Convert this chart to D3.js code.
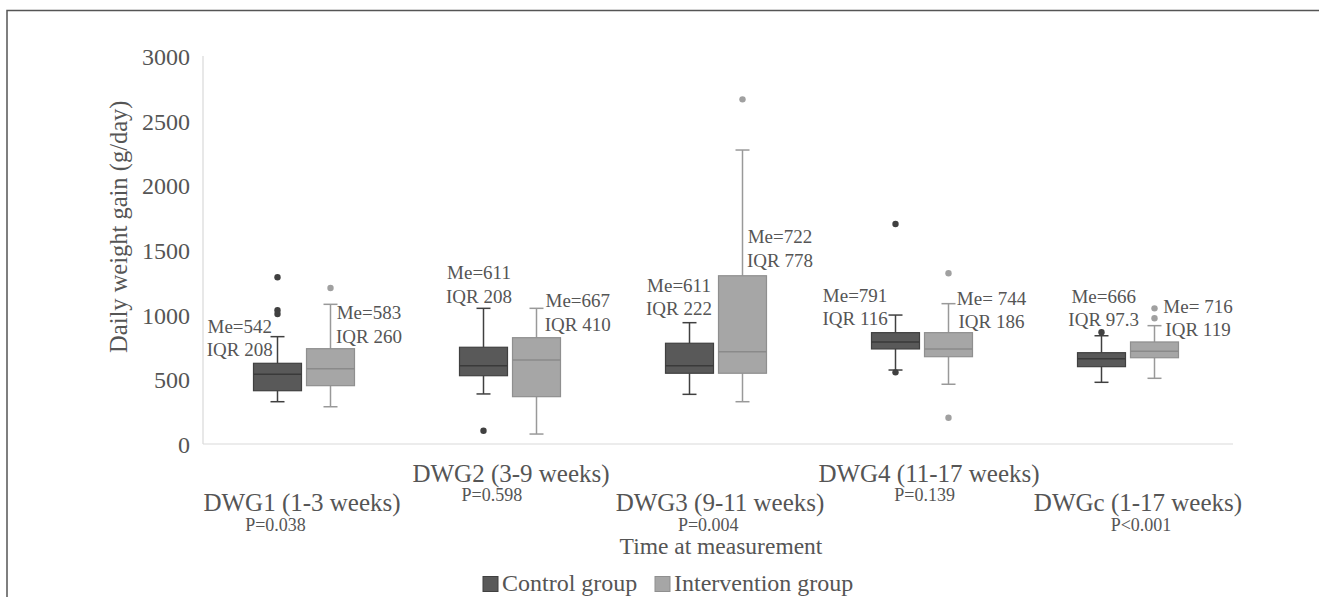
<!DOCTYPE html>
<html><head><meta charset="utf-8">
<script src="https://cdn.jsdelivr.net/npm/d3@7"></script>
<style>
body{margin:0;background:#fff;}
text{font-family:"Liberation Serif","Times New Roman",Times,serif;fill:#555555;}
</style>
</head><body>
<svg id="c" width="1319" height="597"></svg>
<script>
// ---- data ----
const categories = ["DWG1 (1-3 weeks)","DWG2 (3-9 weeks)","DWG3 (9-11 weeks)","DWG4 (11-17 weeks)","DWGc (1-17 weeks)"];
const pLabels = ["P=0.038","P=0.598","P=0.004","P=0.139","P<0.001"];
const seriesNames = ["Control group","Intervention group"];
const yTicks = [0,500,1000,1500,2000,2500,3000];

const controlMin     = [327, 387, 384, 572, 477];
const controlQ1      = [412, 528, 547, 735, 598];
const controlMedian  = [539, 605, 605, 789, 660];
const controlQ3      = [624, 748, 779, 861, 706];
const controlMax     = [830, 1049, 938, 997, 837];
const controlOutliers = [[1289,1035,1005],[103],[],[1701,554],[864]];

const interventionMin     = [288, 77, 327, 462, 508];
const interventionQ1      = [451, 366, 547, 675, 667];
const interventionMedian  = [582, 650, 714, 735, 717];
const interventionQ3      = [737, 822, 1301, 861, 789];
const interventionMax     = [1080, 1049, 2273, 1085, 915];
const interventionOutliers = [[1206],[],[2665],[1320,203],[1049,972]];

const controlMe  = ["Me=542","Me=611","Me=611","Me=791","Me=666"];
const controlIQR = ["IQR 208","IQR 208","IQR 222","IQR 116","IQR 97.3"];
const interventionMe  = ["Me=583","Me=667","Me=722","Me= 744","Me= 716"];
const interventionIQR = ["IQR 260","IQR 410","IQR 778","IQR 186","IQR 119"];

// ---- layout (annotation placement) ----
const annotLayout = {
  "Control group":      {dx:[-37.7,-4.5,-10.5,-40.4,2.2], v:[861,1273,1178,1100,1093]},
  "Intervention group": {dx:[38.5,41.3,37.5,43,43.5],     v:[964,1057,1552,1075,1015]}
};

const series = [
  {name:"Control group", min:controlMin, q1:controlQ1, med:controlMedian, q3:controlQ3, max:controlMax, out:controlOutliers, me:controlMe, iqr:controlIQR,
   fill:"#595959", stroke:"#404040", whisk:"#404040", medc:"#3a3a3a", dot:"#404040"},
  {name:"Intervention group", min:interventionMin, q1:interventionQ1, med:interventionMedian, q3:interventionQ3, max:interventionMax, out:interventionOutliers, me:interventionMe, iqr:interventionIQR,
   fill:"#a6a6a6", stroke:"#8f8f8f", whisk:"#999999", medc:"#8a8a8a", dot:"#a0a0a0"}
];

const svg = d3.select("#c");

// outer frame
svg.append("rect").attr("x",7).attr("y",10.5).attr("width",1340).attr("height",620)
  .attr("fill","none").attr("stroke","#555").attr("stroke-width",1.5);

const x = d3.scaleBand().domain(categories).range([201,1231]);
const xs = d3.scaleBand().domain(seriesNames).range([-50.5,50.5]).paddingInner(5/53);
const y = d3.scaleLinear().domain([0,3000]).range([444,56]);

// axis lines
svg.append("line").attr("x1",203).attr("x2",203).attr("y1",y(3000)).attr("y2",y(0))
  .attr("stroke","#d9d9d9").attr("stroke-width",1.2);
svg.append("line").attr("x1",203).attr("x2",1233).attr("y1",y(0)).attr("y2",y(0))
  .attr("stroke","#d9d9d9").attr("stroke-width",1.2);

// y axis labels
const yAxis = d3.axisLeft(y).tickValues(yTicks).tickSize(0).tickPadding(13).tickFormat(d3.format("d"));
const ga = svg.append("g").attr("transform","translate(203,0)").call(yAxis);
ga.attr("font-family",null);
ga.select(".domain").remove();
ga.selectAll("text").style("font-size","24px").attr("fill","#555555").attr("dy","0.35em");

// y title
svg.append("text").attr("transform",`translate(127,${y(1680)}) rotate(-90)`)
  .attr("text-anchor","middle").style("font-size","24.5px").text("Daily weight gain (g/day)");

// boxes
const bw = xs.bandwidth();
const capW = 14;
series.forEach(s => {
  categories.forEach((c,i) => {
    const cx = x(c) + x.bandwidth()/2 + xs(s.name) + bw/2;
    const g = svg.append("g");
    g.append("line").attr("x1",cx).attr("x2",cx).attr("y1",y(s.max[i])).attr("y2",y(s.q3[i]))
      .attr("stroke",s.whisk).attr("stroke-width",1.5);
    g.append("line").attr("x1",cx).attr("x2",cx).attr("y1",y(s.q1[i])).attr("y2",y(s.min[i]))
      .attr("stroke",s.whisk).attr("stroke-width",1.5);
    [s.max[i], s.min[i]].forEach(v => {
      g.append("line").attr("x1",cx-capW/2).attr("x2",cx+capW/2).attr("y1",y(v)).attr("y2",y(v))
        .attr("stroke",s.whisk).attr("stroke-width",1.5);
    });
    g.append("rect").attr("x",cx-bw/2).attr("width",bw)
      .attr("y",y(s.q3[i])).attr("height",y(s.q1[i])-y(s.q3[i]))
      .attr("fill",s.fill).attr("stroke",s.stroke).attr("stroke-width",1.2);
    g.append("line").attr("x1",cx-bw/2).attr("x2",cx+bw/2).attr("y1",y(s.med[i])).attr("y2",y(s.med[i]))
      .attr("stroke",s.medc).attr("stroke-width",1.5);
    s.out[i].forEach(v => {
      g.append("circle").attr("cx",cx).attr("cy",y(v)).attr("r",3.2).attr("fill",s.dot);
    });
    const L = annotLayout[s.name];
    const tx = cx + L.dx[i], ty = y(L.v[i]);
    g.append("text").attr("x",tx).attr("y",ty).attr("text-anchor","middle").style("font-size","19px").text(s.me[i]);
    g.append("text").attr("x",tx).attr("y",ty+23.5).attr("text-anchor","middle").style("font-size","19px").text(s.iqr[i]);
  });
});

// category labels (staggered)
const labelX = d3.scalePoint().domain(categories).range([302,1138]);
const pX = d3.scalePoint().domain(categories).range([275.5,1141]);
categories.forEach((c,i) => {
  const upper = i % 2 === 1;
  svg.append("text").attr("x",labelX(c)).attr("y",upper?482:511).attr("text-anchor","middle")
    .style("font-size","25px").text(c);
  svg.append("text").attr("x",pX(c)).attr("y",upper?501:530.5).attr("text-anchor","middle")
    .style("font-size","18px").text(pLabels[i]);
});

svg.append("text").attr("x",721).attr("y",554).attr("text-anchor","middle")
  .style("font-size","23.5px").text("Time at measurement");

// legend
const legX = [483, 655];
series.forEach((s,k) => {
  svg.append("rect").attr("x",legX[k]).attr("y",576.5).attr("width",15).attr("height",15)
    .attr("fill",s.fill).attr("stroke",s.stroke).attr("stroke-width",1);
  svg.append("text").attr("x",legX[k]+19).attr("y",591).style("font-size","24px").text(s.name);
});
</script>
</body></html>
